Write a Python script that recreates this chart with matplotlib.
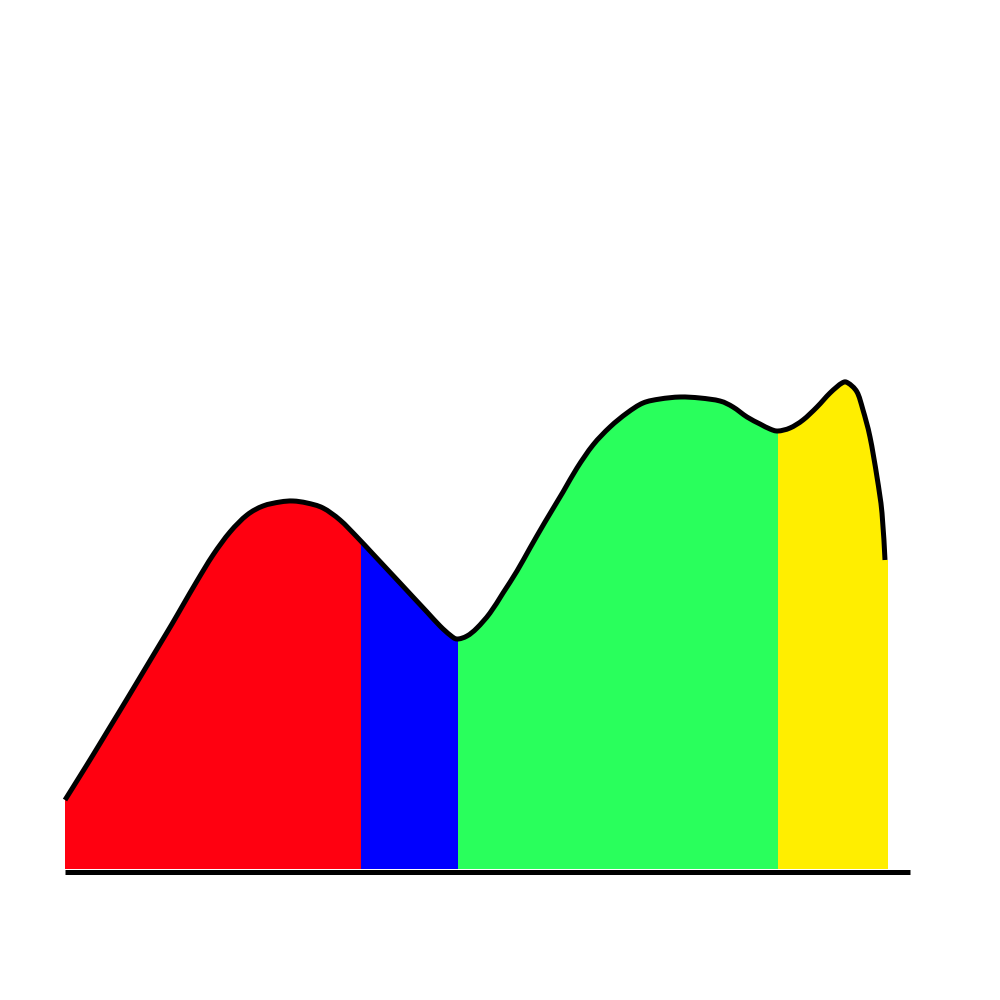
import numpy as np
import matplotlib
matplotlib.use('Agg')
import matplotlib.pyplot as plt
from matplotlib.path import Path
from matplotlib.patches import PathPatch

# Curva (x desde el borde izquierdo, altura sobre la base)
curva_x = [0, 15, 28, 45, 62, 80, 95, 107, 118, 132, 148, 165, 182, 198,
           215, 228, 242, 258, 275, 292, 307, 321, 335, 348, 362, 375,
           385, 392, 402, 412, 425, 438, 452, 465, 480, 498, 512, 528,
           545, 562, 578, 595, 615, 635, 655, 668, 682, 695, 705, 713, 725,
           738, 752, 765, 777, 783, 792, 798, 805, 812, 817, 820]
curva_y = [72, 96, 117, 145, 173, 203, 228, 248, 267, 291, 317, 340, 357, 366,
           370, 371, 369, 364, 352, 335, 319, 304, 289, 275, 260, 246,
           237, 233, 236, 244, 259, 279, 301, 324, 350, 380, 404, 427,
           445, 459, 469, 473, 475, 474, 471, 465, 455, 448, 443, 441, 444,
           452, 465, 479, 489, 489, 480, 462, 435, 395, 359, 312]

# Limites de cada zona coloreada y sus colores
limites = [0, 296, 393, 713, 823]
colores = ['#ff0010', '#0000ff', '#29ff5c', '#ffee00']
base_fill = 3
largo_base = 845


def curva_suave(px, py):
    # Catmull-Rom -> Bezier cubico para dibujar la curva sin quiebres
    P = np.column_stack([px, py]).astype(float)
    n = len(P)
    verts = [P[0]]
    codes = [Path.MOVETO]
    for i in range(n - 1):
        p0 = P[i - 1] if i > 0 else P[i]
        p3 = P[i + 2] if i + 2 < n else P[i + 1]
        c1 = P[i] + (P[i + 1] - p0) / 6
        c2 = P[i + 1] - (p3 - P[i]) / 6
        verts += [c1, c2, P[i + 1]]
        codes += [Path.CURVE4] * 3
    return verts, codes


fig = plt.figure(figsize=(10, 10), dpi=100)
ax = fig.add_axes((0, 0, 1, 1))
ax.set_xlim(-65, 935)
ax.set_ylim(-128, 872)
ax.axis('off')

verts, codes = curva_suave(curva_x, curva_y)

# Area bajo la curva (para recortar las zonas de color)
area_v = verts + [(limites[-1], curva_y[-1]), (limites[-1], base_fill),
                  (curva_x[0], base_fill), (curva_x[0], curva_y[0])]
area_c = codes + [Path.LINETO, Path.LINETO, Path.LINETO, Path.CLOSEPOLY]
area = PathPatch(Path(area_v, area_c), facecolor='none', edgecolor='none')
ax.add_patch(area)

# Zonas de color
izq = limites[:-1]
anchos = np.diff(limites)
barras = ax.bar(izq, 600, width=anchos, bottom=0, align='edge',
                color=colores, linewidth=0)
for b in barras:
    b.set_clip_path(area)

# Linea de la curva y linea base
ax.add_patch(PathPatch(Path(verts, codes), facecolor='none', edgecolor='black',
                       lw=3.6, capstyle='butt', joinstyle='round'))
ax.plot([0, largo_base], [0, 0], color='black', lw=3.6, solid_capstyle='butt')

fig.savefig('out.png', dpi=100)
